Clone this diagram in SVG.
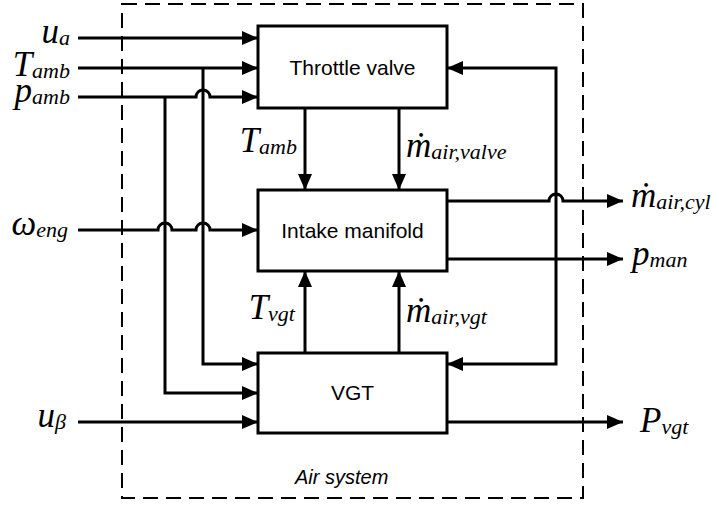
<svg xmlns="http://www.w3.org/2000/svg" width="719" height="508" viewBox="0 0 719 508">
<style>
.box{fill:#fff;stroke:#000;stroke-width:3}
.ln{fill:none;stroke:#000;stroke-width:3}
.ar{marker-end:url(#ah)}
.bt{font-family:"Liberation Sans",Arial,sans-serif;font-size:21px;fill:#000;text-anchor:middle}
.sym{font-family:"Liberation Serif","Times New Roman",serif;font-style:italic;font-size:35px;fill:#000}
.sub{font-size:22px}
.dash{fill:none;stroke:#000;stroke-width:2;stroke-dasharray:15 8}
</style>
<defs>
<marker id="ah" viewBox="0 0 16 14" refX="16" refY="7" markerWidth="16" markerHeight="14" markerUnits="userSpaceOnUse" orient="auto">
<path d="M0,0 L16,7 L0,14 z" fill="#000"/>
</marker>
</defs>
<rect width="719" height="508" fill="#fff"/>
<g id="air-system">
<rect class="dash" x="122" y="4" width="461" height="494"/>
<text x="295" y="484" style="font-family:'Liberation Sans',Arial,sans-serif;font-size:20px;font-style:italic">Air system</text>
</g>
<g id="connectors">
<path class="ln ar" d="M78,38 H258"/>
<path class="ln ar" d="M78,68 H258"/>
<path class="ln ar" d="M78,97 H196 A7,7 0 0 1 210,97 H258"/>
<path class="ln ar" d="M78,230 H158 A7,7 0 0 1 172,230 H196 A7,7 0 0 1 210,230 H258"/>
<path class="ln ar" d="M78,422 H258"/>
<path class="ln ar" d="M203,68 V364 H258"/>
<path class="ln ar" d="M165,97 V393 H258"/>
<path class="ln ar" d="M305,108 V190"/>
<path class="ln ar" d="M399,108 V190"/>
<path class="ln ar" d="M305,353 V271"/>
<path class="ln ar" d="M399,353 V271"/>
<path class="ln ar" d="M447,201 H549 A7,7 0 0 1 563,201 H623"/>
<path class="ln ar" d="M447,259 H623"/>
<path class="ln ar" d="M447,422 H623"/>
<path class="ln ar" d="M556,259 V68 H447"/>
<path class="ln ar" d="M556,259 V364 H447"/>
<g id="signal-labels">
<text class="sym" x="70" y="43" text-anchor="end">u<tspan class="sub" dy="2">a</tspan></text>
<text class="sym" x="70" y="76" text-anchor="end">T<tspan class="sub" dy="2">amb</tspan></text>
<text class="sym" x="70" y="102" text-anchor="end">p<tspan class="sub" dy="2">amb</tspan></text>
<text class="sym" x="68" y="235" text-anchor="end">ω<tspan class="sub" dy="2">eng</tspan></text>
<text class="sym" x="66" y="427" text-anchor="end">u<tspan class="sub" dy="2">β</tspan></text>
<text class="sym" x="297" y="152" text-anchor="end">T<tspan class="sub" dy="2">amb</tspan></text>
<text class="sym" x="406" y="157">ṁ<tspan class="sub" dy="2">air,valve</tspan></text>
<text class="sym" x="295" y="319" text-anchor="end">T<tspan class="sub" dy="2">vgt</tspan></text>
<text class="sym" x="406" y="322">ṁ<tspan class="sub" dy="2">air,vgt</tspan></text>
<text class="sym" x="631" y="207">ṁ<tspan class="sub" dy="2">air,cyl</tspan></text>
<text class="sym" x="632" y="265">p<tspan class="sub" dy="2">man</tspan></text>
<text class="sym" x="640" y="432">P<tspan class="sub" dy="2">vgt</tspan></text>
</g>
</g>
<g id="throttle-valve">
<rect class="box" x="258" y="26" width="189" height="82"/>
<text class="bt" x="352.5" y="75">Throttle valve</text>
</g>
<g id="intake-manifold">
<rect class="box" x="258" y="190" width="189" height="81"/>
<text class="bt" x="352.5" y="238">Intake manifold</text>
</g>
<g id="vgt">
<rect class="box" x="258" y="353" width="189" height="80"/>
<text class="bt" x="352.5" y="400">VGT</text>
</g>
</svg>
